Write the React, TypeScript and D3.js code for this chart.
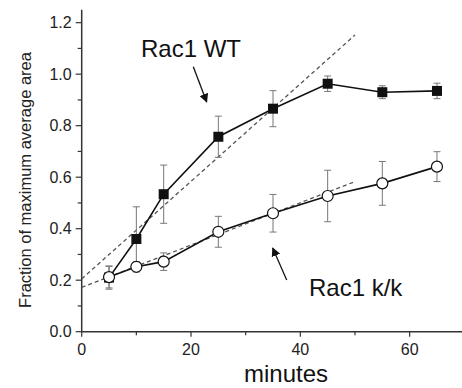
import React, { useEffect, useRef } from 'react';
import * as d3 from 'd3';

// minutes
const times = [5, 10, 15, 25, 35, 45, 55, 65];
// Rac1 WT (filled squares)
const wtMean = [0.21, 0.36, 0.534, 0.757, 0.866, 0.963, 0.93, 0.935];
const wtErr = [0.045, 0.125, 0.113, 0.08, 0.07, 0.03, 0.025, 0.03];
// Rac1 k/k (open circles)
const kkMean = [0.212, 0.252, 0.272, 0.388, 0.46, 0.527, 0.576, 0.641];
const kkErr = [0.042, 0.02, 0.034, 0.06, 0.073, 0.1, 0.085, 0.058];
// linear fits (dashed)
const fitX = [0, 50];
const wtFit = [0.205, 1.152];
const kkFit = [0.172, 0.583];

const xTicks = [0, 20, 40, 60];
const xMinor = [10, 30, 50, 70];
const yTicks = [0, 0.2, 0.4, 0.6, 0.8, 1.0, 1.2];
const yMinor = [0.1, 0.3, 0.5, 0.7, 0.9, 1.1];

const App = () => {
  const svgRef = useRef<SVGSVGElement>(null);

  useEffect(() => {
    if (!svgRef.current) return;
    const svg = d3.select(svgRef.current);
    svg.selectAll('*').remove();

    const font = 'Liberation Sans, Arial, sans-serif';
    const axisColor = '#333';

    const x = d3.scaleLinear().domain([0, 70]).range([81.7, 464.3]);
    const y = d3.scaleLinear().domain([0, 1.25]).range([331.7, 9.8]);

    const g = svg.append('g');

    // axes lines
    g.append('line')
      .attr('x1', x(0)).attr('x2', x(0))
      .attr('y1', y(1.25)).attr('y2', y(0))
      .attr('stroke', axisColor).attr('stroke-width', 1.5);
    g.append('line')
      .attr('x1', x(0)).attr('x2', x(70))
      .attr('y1', y(0)).attr('y2', y(0))
      .attr('stroke', axisColor).attr('stroke-width', 1.5);

    // y ticks
    g.selectAll('.ytick').data(yTicks).enter().append('line')
      .attr('x1', x(0) - 6).attr('x2', x(0))
      .attr('y1', d => y(d)).attr('y2', d => y(d))
      .attr('stroke', axisColor).attr('stroke-width', 1.2);
    g.selectAll('.yminor').data(yMinor).enter().append('line')
      .attr('x1', x(0) - 4).attr('x2', x(0))
      .attr('y1', d => y(d)).attr('y2', d => y(d))
      .attr('stroke', axisColor).attr('stroke-width', 1.2);
    g.selectAll('.ylab').data(yTicks).enter().append('text')
      .attr('x', x(0) - 10)
      .attr('y', d => y(d))
      .attr('dy', '0.36em')
      .attr('text-anchor', 'end')
      .attr('font-family', font)
      .attr('font-size', 16)
      .attr('fill', '#222')
      .text(d => d.toFixed(1));

    // x ticks
    g.selectAll('.xtick').data(xTicks).enter().append('line')
      .attr('x1', d => x(d)).attr('x2', d => x(d))
      .attr('y1', y(0)).attr('y2', y(0) + 5)
      .attr('stroke', axisColor).attr('stroke-width', 1.2);
    g.selectAll('.xminor').data(xMinor).enter().append('line')
      .attr('x1', d => x(d)).attr('x2', d => x(d))
      .attr('y1', y(0)).attr('y2', y(0) + 3.5)
      .attr('stroke', axisColor).attr('stroke-width', 1.2);
    g.selectAll('.xlab').data(xTicks).enter().append('text')
      .attr('x', d => x(d))
      .attr('y', 355)
      .attr('text-anchor', 'middle')
      .attr('font-family', font)
      .attr('font-size', 16)
      .attr('fill', '#222')
      .text(d => d);

    // axis titles
    svg.append('text')
      .attr('x', 286)
      .attr('y', 382)
      .attr('text-anchor', 'middle')
      .attr('font-family', font)
      .attr('font-size', 24)
      .attr('fill', '#111')
      .text('minutes');
    svg.append('text')
      .attr('transform', 'translate(31,180) rotate(-90)')
      .attr('text-anchor', 'middle')
      .attr('font-family', font)
      .attr('font-size', 16.5)
      .attr('fill', '#222')
      .text('Fraction of maximum average area');

    // fits
    const fitLine = (vals: number[]) =>
      d3.line<number>().x((_, i) => x(fitX[i])).y(d => y(d))(vals);
    [wtFit, kkFit].forEach(f => {
      g.append('path')
        .attr('d', fitLine(f))
        .attr('fill', 'none')
        .attr('stroke', '#555')
        .attr('stroke-width', 1.3)
        .attr('stroke-dasharray', '4,3');
    });

    const drawSeries = (mean: number[], err: number[], kind: 'square' | 'circle') => {
      const pts = times.map((t, i) => ({ t, m: mean[i], e: err[i] }));
      // error bars
      pts.forEach(p => {
        const eg = g.append('g').attr('stroke', '#777').attr('stroke-width', 1);
        eg.append('line')
          .attr('x1', x(p.t)).attr('x2', x(p.t))
          .attr('y1', y(p.m + p.e)).attr('y2', y(p.m - p.e));
        [p.m + p.e, p.m - p.e].forEach(v => {
          eg.append('line')
            .attr('x1', x(p.t) - 3.5).attr('x2', x(p.t) + 3.5)
            .attr('y1', y(v)).attr('y2', y(v));
        });
      });
      // connecting line
      g.append('path')
        .datum(pts)
        .attr('fill', 'none')
        .attr('stroke', '#111')
        .attr('stroke-width', 1.6)
        .attr('d', d3.line<{ t: number; m: number }>().x(d => x(d.t)).y(d => y(d.m)));
      // markers
      if (kind === 'square') {
        g.selectAll(null).data(pts).enter().append('rect')
          .attr('x', d => x(d.t) - 5)
          .attr('y', d => y(d.m) - 5)
          .attr('width', 10).attr('height', 10)
          .attr('fill', '#111');
      } else {
        g.selectAll(null).data(pts).enter().append('circle')
          .attr('cx', d => x(d.t))
          .attr('cy', d => y(d.m))
          .attr('r', 5.5)
          .attr('fill', '#fff')
          .attr('stroke', '#111')
          .attr('stroke-width', 1.2);
      }
    };

    drawSeries(wtMean, wtErr, 'square');
    drawSeries(kkMean, kkErr, 'circle');

    // annotations
    const defs = svg.append('defs');
    defs.append('marker')
      .attr('id', 'arr')
      .attr('viewBox', '0 0 10 10')
      .attr('refX', 9).attr('refY', 5)
      .attr('markerWidth', 9).attr('markerHeight', 9)
      .attr('markerUnits', 'userSpaceOnUse')
      .attr('orient', 'auto')
      .append('path')
      .attr('d', 'M0,0 L10,5 L0,10 z')
      .attr('fill', '#111');

    svg.append('text')
      .attr('x', 141).attr('y', 57)
      .attr('font-family', font)
      .attr('font-size', 24)
      .attr('fill', '#111')
      .text('Rac1 WT');
    svg.append('line')
      .attr('x1', 193.3).attr('y1', 66.7)
      .attr('x2', 206.7).attr('y2', 102)
      .attr('stroke', '#111').attr('stroke-width', 1.3)
      .attr('marker-end', 'url(#arr)');

    svg.append('text')
      .attr('x', 309).attr('y', 296)
      .attr('font-family', font)
      .attr('font-size', 24)
      .attr('fill', '#111')
      .text('Rac1 k/k');
    svg.append('line')
      .attr('x1', 286.7).attr('y1', 280)
      .attr('x2', 272.7).attr('y2', 248)
      .attr('stroke', '#111').attr('stroke-width', 1.3)
      .attr('marker-end', 'url(#arr)');
  }, []);

  return (
    <svg
      ref={svgRef}
      width={462}
      height={388}
      style={{ position: 'absolute', left: 0, top: 0, background: '#fff' }}
    ></svg>
  );
};

export default App;
